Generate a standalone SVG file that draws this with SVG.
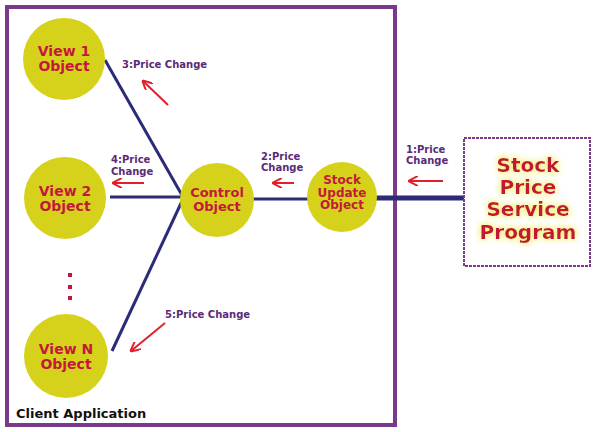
<svg xmlns="http://www.w3.org/2000/svg" width="594" height="432" viewBox="0 0 594 432">
<defs>
<style>
.node{fill:#d6d21c;}
.nt{font-family:"DejaVu Sans",Verdana,sans-serif;font-weight:bold;fill:#c4183a;text-anchor:middle;}
.lbl{font-family:"DejaVu Sans",Verdana,sans-serif;font-weight:bold;fill:#5a2a78;font-size:10px;}
.conn{stroke:#2b2b78;stroke-width:3;fill:none;}
.arr{stroke:#e0202a;stroke-width:2;fill:none;marker-end:url(#ah);}
</style>
<marker id="ah" viewBox="0 0 10 10" refX="9" refY="5" markerWidth="5" markerHeight="5" orient="auto">
<path d="M0,0 L10,5 L0,10" fill="none" stroke="#e0202a" stroke-width="2"/>
</marker>
<filter id="glow" x="-20%" y="-20%" width="140%" height="140%">
<feGaussianBlur in="SourceAlpha" stdDeviation="3" result="b"/>
<feFlood flood-color="#f4f070"/>
<feComposite in2="b" operator="in" result="g"/>
<feMerge><feMergeNode in="g"/><feMergeNode in="g"/><feMergeNode in="SourceGraphic"/></feMerge>
</filter>
</defs>
<rect width="594" height="432" fill="#fff"/>
<g id="client-application">
<rect x="7" y="7" width="388" height="418" fill="none" stroke="#7a3a8c" stroke-width="4"/>
<text x="16" y="418" font-family="DejaVu Sans,Verdana,sans-serif" font-weight="bold" font-size="13" fill="#111">Client Application</text>
</g>
<g id="connectors">
<line class="conn" x1="105" y1="60" x2="183" y2="197"/>
<line class="conn" x1="110" y1="197" x2="183" y2="197"/>
<line class="conn" x1="112" y1="351" x2="183" y2="199"/>
<line class="conn" x1="253" y1="199" x2="309" y2="199"/>
<line x1="376" y1="198" x2="464" y2="198" stroke="#2b2b78" stroke-width="5"/>
<line class="arr" x1="168" y1="105" x2="143" y2="81"/>
<line class="arr" x1="144" y1="183" x2="113" y2="183"/>
<line class="arr" x1="294" y1="183" x2="273" y2="183"/>
<line class="arr" x1="443" y1="181" x2="409" y2="181"/>
<line class="arr" x1="165" y1="323" x2="131" y2="351"/>
<text class="lbl" x="122" y="68">3:Price Change</text>
<text class="lbl" x="111" y="163">4:Price</text>
<text class="lbl" x="111" y="175">Change</text>
<text class="lbl" x="261" y="160" font-size="8">2:Price</text>
<text class="lbl" x="261" y="171" font-size="8">Change</text>
<text class="lbl" x="406" y="153" font-size="9">1:Price</text>
<text class="lbl" x="406" y="164" font-size="9">Change</text>
<text class="lbl" x="165" y="318" font-size="9">5:Price Change</text>
</g>
<g id="view1">
<circle class="node" cx="64" cy="59" r="41"/>
<text class="nt" x="64" y="56" font-size="14">View 1</text>
<text class="nt" x="64" y="71" font-size="14">Object</text>
</g>
<g id="view2">
<circle class="node" cx="65" cy="198" r="41"/>
<text class="nt" x="65" y="196" font-size="14">View 2</text>
<text class="nt" x="65" y="211" font-size="14">Object</text>
</g>
<g id="ellipsis">
<rect x="68" y="273" width="4" height="4" fill="#c4183a"/>
<rect x="68" y="285" width="4" height="4" fill="#c4183a"/>
<rect x="68" y="296" width="4" height="4" fill="#c4183a"/>
</g>
<g id="viewN">
<circle class="node" cx="66" cy="356" r="42"/>
<text class="nt" x="66" y="354" font-size="14">View N</text>
<text class="nt" x="66" y="369" font-size="14">Object</text>
</g>
<g id="control">
<circle class="node" cx="217" cy="200" r="37"/>
<text class="nt" x="217" y="197" font-size="13">Control</text>
<text class="nt" x="217" y="211" font-size="13">Object</text>
</g>
<g id="stock-update">
<circle class="node" cx="342" cy="197" r="35"/>
<text class="nt" x="342" y="184" font-size="12">Stock</text>
<text class="nt" x="342" y="196.5" font-size="12">Update</text>
<text class="nt" x="342" y="209" font-size="12">Object</text>
</g>
<g id="stock-price-service">
<rect x="464" y="138" width="126" height="128" fill="#fff" stroke="#7a3a8c" stroke-width="2" stroke-dasharray="3 1"/>
<g filter="url(#glow)">
<text class="nt" x="528" y="172" font-size="20">Stock</text>
<text class="nt" x="528" y="194" font-size="20">Price</text>
<text class="nt" x="528" y="216" font-size="20">Service</text>
<text class="nt" x="528" y="238.5" font-size="20">Program</text>
</g>
</g>
</svg>
